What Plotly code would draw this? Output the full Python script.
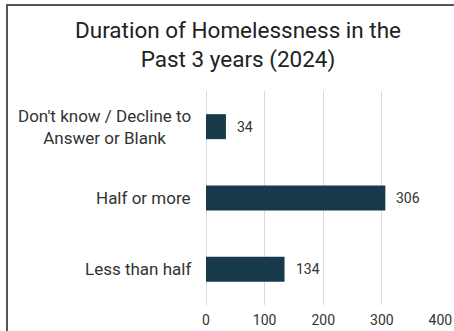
import plotly.graph_objects as go

categories = ["Don't know / Decline to<br>Answer or Blank", "Half or more", "Less than half"]
values = [34, 306, 134]
x_ticks = [0, 100, 200, 300, 400]
title_text = "Duration of Homelessness in the<br>Past 3 years (2024)"

W, H = 454, 331
# plot-area edges in pixels (left, right, top, bottom)
PL, PR, PT, PB = 206, 441, 91, 305

def fx(p):
    return p / W

def fy(p):
    return (H - p) / H

BAR = "#163a4a"
TXT = "#333333"
FONT = "Roboto"

fig = go.Figure(go.Bar(
    x=values, y=categories, orientation="h", width=0.35,
    marker=dict(color=BAR, line=dict(width=0)),
    hoverinfo="skip",
))

annotations = []
for c, v in zip(categories, values):
    annotations.append(dict(x=v, y=c, xref="x", yref="y", text=str(v), showarrow=False,
                            xanchor="left", xshift=9, font=dict(family=FONT, size=14, color=TXT)))
    annotations.append(dict(x=fx(PL), y=c, xref="paper", yref="y", text=c, showarrow=False,
                            xanchor="right", xshift=-13, align="center",
                            font=dict(family=FONT, size=17, color=TXT)))

# outer chart frame: only its left and top edges fall inside the visible crop
shapes = [
    dict(type="rect", xref="paper", yref="paper", x0=fx(7), x1=1.3, y0=-0.3, y1=fy(5),
         line=dict(color="#555555", width=2), fillcolor="rgba(0,0,0,0)", layer="above"),
]

fig.update_layout(
    width=W, height=H, autosize=False,
    margin=dict(l=0, r=0, t=0, b=0, pad=0, autoexpand=False),
    paper_bgcolor="white", plot_bgcolor="white",
    title=dict(text=title_text, x=238 / W, xanchor="center", xref="container",
               y=1 - 38 / H, yanchor="top", yref="container", automargin=False,
               font=dict(family=FONT, size=22.5, color="#222222")),
    xaxis=dict(domain=[fx(PL), fx(PR)], range=[0, 401], tickvals=x_ticks,
               showgrid=True, gridcolor="#dadada", gridwidth=1,
               zeroline=True, zerolinecolor="#dadada", zerolinewidth=1, automargin=False,
               ticks="outside", ticklen=2, tickcolor="rgba(0,0,0,0)",
               tickfont=dict(family=FONT, size=14, color=TXT), showline=False, fixedrange=True),
    yaxis=dict(domain=[fy(PB), fy(PT)], autorange="reversed", showticklabels=False,
               showgrid=False, zeroline=False, automargin=False, fixedrange=True),
    showlegend=False,
    bargap=0.65,
    annotations=annotations,
    shapes=shapes,
)

fig.write_html(
    "out.html",
    config={"displayModeBar": False, "staticPlot": True},
    post_script="document.body.style.margin='0';document.body.style.overflow='hidden';"
                "document.documentElement.style.overflow='hidden';",
)
